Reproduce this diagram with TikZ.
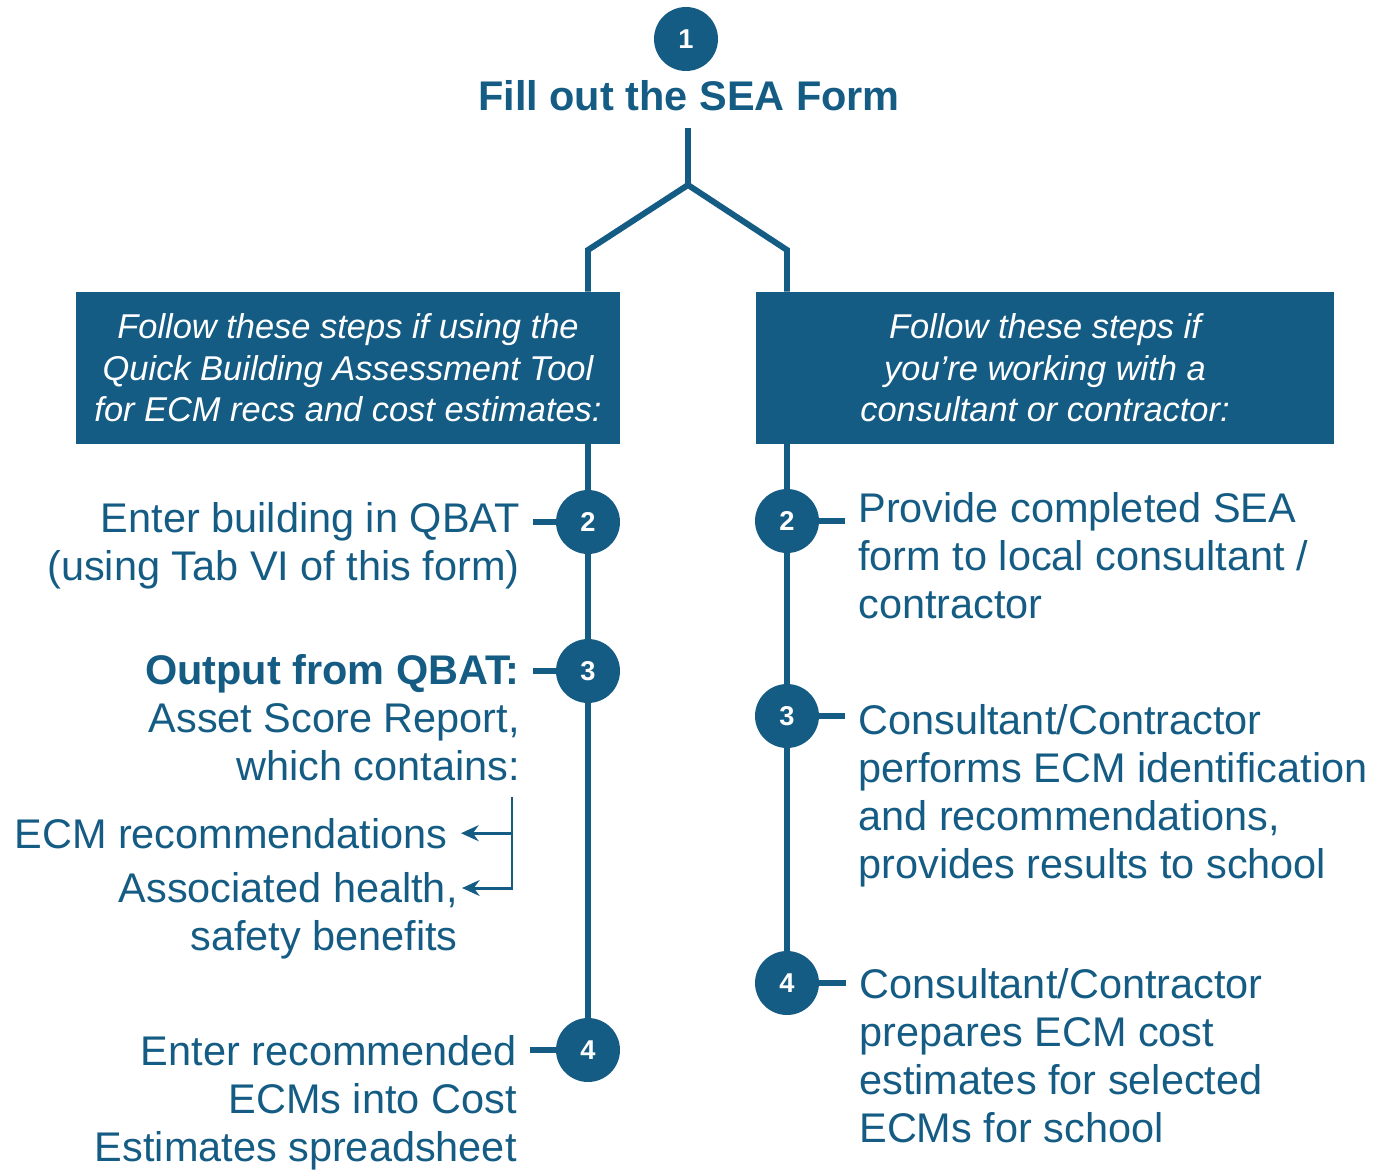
\documentclass[tikz,border=0pt]{standalone}
\usepackage{fontspec}
\setmainfont{Liberation Sans}
\usetikzlibrary{arrows.meta, positioning}
\definecolor{seablue}{RGB}{21,92,132}

\tikzset{
  flow/.style={line width=3.4pt, draw=seablue},
  thinflow/.style={line width=1.7pt, draw=seablue},
  stepnum/.style={circle, fill=seablue, text=white, inner sep=0pt, minimum size=1.28cm,
    font=\fontsize{15.5}{17}\selectfont\bfseries},
  pathbox/.style={fill=seablue, text=white, minimum height=3.04cm, align=center,
    font=\fontsize{19.6}{23.6}\selectfont\itshape},
  lefttext/.style={anchor=base east, align=right, inner xsep=0.26cm, inner ysep=0pt,
    text=seablue, font=\fontsize{23.6}{27.3}\selectfont},
  righttext/.style={anchor=base west, align=left, inner xsep=0.26cm, inner ysep=0pt,
    text=seablue, font=\fontsize{23.6}{27.3}\selectfont},
}

\begin{document}
\begin{tikzpicture}[x=0.02cm, y=-0.02cm]
  \useasboundingbox (0,0) rectangle (1373,1170);

  % top step
  \node[stepnum] (s1) at (686,39) {1};
  \node[anchor=base, text=seablue, font=\fontsize{23.6}{27}\selectfont\bfseries] (title) at (689,110) {Fill out the SEA Form};

  % the two paths
  \node[pathbox, minimum width=10.88cm] (lbox) at (348,368)
    {Follow these steps if using the\\Quick Building Assessment Tool\\for ECM recs and cost estimates:};
  \node[pathbox, minimum width=11.56cm] (rbox) at (1045,368)
    {Follow these steps if\\you’re working with a\\consultant or contractor:};

  \coordinate (stemtop) at (688,128);
  \coordinate (fork) at (688,185);
  \coordinate (lbend) at (588,250);
  \coordinate (rbend) at (787,250);
  \draw[flow] (stemtop) -- (fork) -- (lbend) -- (lbend |- lbox.north);
  \draw[flow] (fork) -- (rbend) -- (rbend |- rbox.north);

  % left column (text nodes sit on their last baseline)
  \node[stepnum] (l2) at (588,522) {2};
  \node[stepnum] (l3) at (588,671) {3};
  \node[stepnum] (l4) at (588,1050) {4};
  \draw[flow] (lbox.south -| l2) -- (l2) -- (l3) -- (l4);

  \node[lefttext] (lt2) at (533,580) {Enter building in QBAT\\(using Tab VI of this form)};
  \node[lefttext] (lt3) at (533,780) {\textbf{Output from QBAT:}\\Asset Score Report,\\which contains:};
  \node[lefttext] (lt4) at (530,1161) {Enter recommended\\ECMs into Cost\\Estimates spreadsheet};
  \draw[flow] (l2) -- (l2 -| lt2.east);
  \draw[flow] (l3) -- (l3 -| lt3.east);
  \draw[flow] (l4) -- (l4 -| lt4.east);

  % what the report contains
  \node[lefttext] (ecm) at (461,848) {ECM recommendations};
  \node[lefttext, inner xsep=0.08cm] (health) at (462,950) {Associated health,\\safety benefits};
  \coordinate (btop) at (512,797);
  \coordinate (bbot) at (512,888);
  \draw[thinflow, -{Stealth[length=10pt, width=9pt]}] (btop) -- (bbot) -- (bbot -| health.east);
  \draw[thinflow, -{Stealth[length=10pt, width=9pt]}] (ecm.east -| btop) -- (ecm.east);

  % right column
  \node[stepnum] (r2) at (787,521) {2};
  \node[stepnum] (r3) at (787,716) {3};
  \node[stepnum] (r4) at (787,983) {4};
  \draw[flow] (rbox.south -| r2) -- (r2) -- (r3) -- (r4);

  \node[righttext] (rt2) at (845,618) {Provide completed SEA\\form to local consultant /\\contractor};
  \node[righttext] (rt3) at (845,878) {Consultant/Contractor\\performs ECM identification\\and recommendations,\\provides results to school};
  \node[righttext] (rt4) at (846,1142) {Consultant/Contractor\\prepares ECM cost\\estimates for selected\\ECMs for school};
  \draw[flow] (r2) -- (r2 -| rt2.west);
  \draw[flow] (r3) -- (r3 -| rt3.west);
  \draw[flow] (r4) -- (r4 -| rt4.west);
\end{tikzpicture}
\end{document}
